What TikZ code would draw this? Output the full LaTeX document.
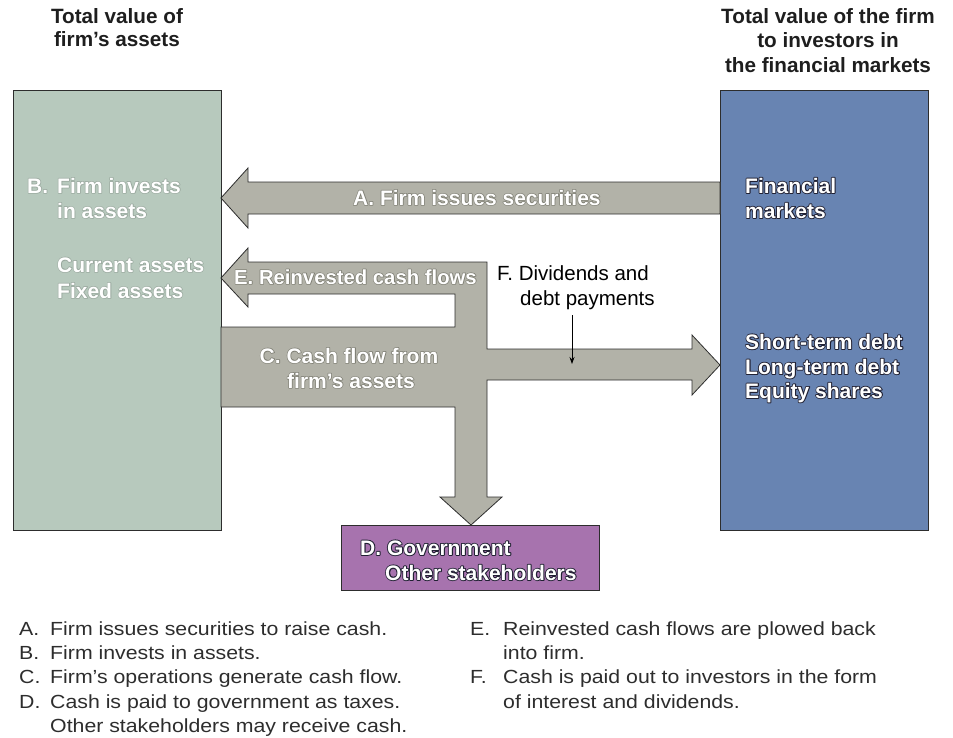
\documentclass[tikz,border=0pt]{standalone}
\usepackage{fontspec}
\setmainfont{Liberation Sans}
\newfontfamily\legfont[FakeStretch=1.12]{Liberation Sans}
\usetikzlibrary{arrows.meta}
\definecolor{assetc}{RGB}{183,201,189}
\definecolor{marketc}{RGB}{104,132,178}
\definecolor{flowc}{RGB}{178,178,168}
\definecolor{govc}{RGB}{167,115,174}
\definecolor{edgec}{RGB}{45,45,45}
\definecolor{hdrc}{RGB}{30,30,30}
\definecolor{legc}{RGB}{45,45,45}
% outlined text: a stroked copy behind, then the white text: stroke colour (r g b), stroke width, text
\newcommand{\outl}[3]{\rlap{\special{pdf:literal direct #2 w #1 RG 1 j 1 Tr}#3\special{pdf:literal direct 0 Tr}}#3}
\newcommand{\olA}[1]{\outl{0.5 0.5 0.46}{1.4}{#1}}
\newcommand{\olB}[1]{\outl{0.6 0.66 0.62}{1.4}{#1}}
\newcommand{\olC}[1]{\outl{0.13 0.13 0.2}{1.8}{#1}}
\tikzset{
  box/.style={draw=edgec, line width=0.9pt, inner sep=0pt},
  flow/.style={draw=edgec, line width=0.8pt, fill=flowc, line join=miter},
  lbl/.style={inner sep=0pt, anchor=base west, text=white, font=\fontsize{21}{24}\selectfont\bfseries},
  lblc/.style={lbl, anchor=base},
  hdr/.style={inner sep=0pt, anchor=base, text=hdrc, font=\fontsize{20.7}{24}\selectfont\bfseries},
  note/.style={inner sep=0pt, anchor=base west, text=black, font=\fontsize{20.5}{24}\selectfont},
  leg/.style={inner sep=0pt, anchor=base west, text=legc, font=\legfont\fontsize{19}{24}\selectfont},
}
\begin{document}
\begin{tikzpicture}[x=1pt,y=-1pt]
\useasboundingbox (0,0) rectangle (953,737);
% headers
\node[hdr] (h1a) at (117,23) {Total value of};
\node[hdr] (h1b) at (117,46) {firm’s assets};
\node[hdr] (h2a) at (828,23) {Total value of the firm};
\node[hdr] (h2b) at (828,47.5) {to investors in};
\node[hdr] (h2c) at (828,72) {the financial markets};
% boxes
\node[box, fill=assetc, minimum width=208pt, minimum height=440pt] (assets) at (117,310) {};
\node[box, fill=marketc, minimum width=208pt, minimum height=440pt] (markets) at (824,310) {};
\node[box, fill=govc, minimum width=258pt, minimum height=65pt] (gov) at (470,557.5) {};
% arrow A
\draw[flow] (221,198) -- (248,168) -- (248,182) -- (720,182) -- (720,214) -- (248,214) -- (248,228) -- cycle;
% arrows E, C, F, D
\draw[flow] (221,278) -- (248,248) -- (248,262) -- (487,262) -- (487,349) -- (692,349) -- (692,335)
  -- (720,365) -- (692,395) -- (692,380) -- (487,380) -- (487,497) -- (502,497) -- (471,525)
  -- (440,497) -- (455,497) -- (455,407) -- (221,407) -- (221,327) -- (455,327) -- (455,294)
  -- (248,294) -- (248,307) -- cycle;
% F note
\node[note] (f1) at (497,280) {F. Dividends and};
\node[note] (f2) at (520,305) {debt payments};
\coordinate (fs) at (572,315);
\coordinate (fe) at (572,364);
\draw[line width=0.8pt, -{Stealth[length=7pt,width=5pt]}] (fs) -- (fe);
% legend
\node[leg] (ka) at (19,635) {A.};
\node[leg] (ta) at (50,635) {Firm issues securities to raise cash.};
\node[leg] (kb) at (19,659) {B.};
\node[leg] (tb) at (50,659) {Firm invests in assets.};
\node[leg] (kc) at (19,683) {C.};
\node[leg] (tc) at (50,683) {Firm’s operations generate cash flow.};
\node[leg] (kd) at (19,708) {D.};
\node[leg] (td) at (50,708) {Cash is paid to government as taxes.};
\node[leg] (td2) at (50,732) {Other stakeholders may receive cash.};
\node[leg] (ke) at (470,635) {E.};
\node[leg] (te) at (503,635) {Reinvested cash flows are plowed back};
\node[leg] (te2) at (503,659) {into firm.};
\node[leg] (kf) at (470,683) {F.};
\node[leg] (tf) at (503,683) {Cash is paid out to investors in the form};
\node[leg] (tf2) at (503,708) {of interest and dividends.};
% labels in left box
\node[lbl] (b1) at (27,193) {\olB{\makebox[30pt][l]{B.}Firm invests}};
\node[lbl] (b3) at (57,218) {\olB{in assets}};
\node[lbl] (b4) at (57,272) {\olB{Current assets}};
\node[lbl] (b5) at (57,298) {\olB{Fixed assets}};
% arrow labels
\node[lbl] (la) at (353,205) {\olA{A. Firm issues securities}};
\node[lbl, font=\fontsize{20.3}{24}\selectfont\bfseries] (le) at (234,284) {\olA{E. Reinvested cash flows}};
\node[lblc] (lc1) at (349,363) {\olA{C. Cash flow from}};
\node[lblc] (lc2) at (351,388) {\olA{firm’s assets}};
% right box labels
\node[lbl] (r1) at (745,193) {\olC{Financial}};
\node[lbl] (r2) at (745,218) {\olC{markets}};
\node[lbl] (r3) at (745,349) {\olC{Short-term debt}};
\node[lbl] (r4) at (745,374) {\olC{Long-term debt}};
\node[lbl] (r5) at (745,398) {\olC{Equity shares}};
% government box labels
\node[lbl] (d1) at (360,555) {\olC{D. Government}};
\node[lbl] (d2) at (385,580) {\olC{Other stakeholders}};
\end{tikzpicture}
\end{document}
